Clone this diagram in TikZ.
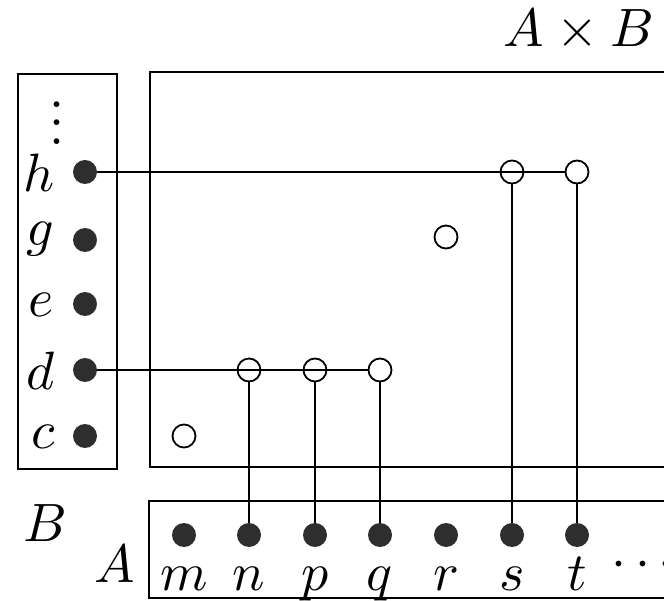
\documentclass[tikz,border=0pt]{standalone}
\tikzset{
  fdot/.style={circle,fill=black!82,inner sep=0pt,minimum size=24pt},
  odot/.style={circle,draw,line width=1.8pt,inner sep=0pt,minimum size=23pt},
  lab/.style={inner sep=0pt,scale=5.4},
  conn/.style={line width=1.9pt},
  frame/.style={line width=1.9pt}
}
\begin{document}
\begin{tikzpicture}[x=1pt,y=-1pt]
\useasboundingbox (0,0) rectangle (664,601);
% frames
\draw[frame] (18,74) rectangle (117,469);
\draw[frame] (680,72) -- (150,72) -- (150,467) -- (680,467);
\draw[frame] (680,501) -- (149,501) -- (149,598) -- (680,598);
% set B
\node[fdot] (bh) at (85,172) {};
\node[fdot] (bg) at (85,240) {};
\node[fdot] (be) at (85,304) {};
\node[fdot] (bd) at (85,370) {};
\node[fdot] (bc) at (85,436) {};
\node[lab] (lh) at (39,173) {$h$};
\node[lab] (lg) at (40,239) {$g$};
\node[lab] (le) at (41,305) {$e$};
\node[lab] (ld) at (41,371) {$d$};
\node[lab] (lc) at (43,437) {$c$};
\node[lab] (vd) at (57,123) {\vbox{\baselineskip=3.45pt\lineskiplimit=-50pt\hbox{.}\hbox{.}\hbox{.}}};
\node[lab] (lB) at (45,523) {$B$};
% set A
\node[fdot] (am) at (184,535) {};
\node[fdot] (an) at (249,535) {};
\node[fdot] (ap) at (315,535) {};
\node[fdot] (aq) at (380,535) {};
\node[fdot] (ar) at (446,535) {};
\node[fdot] (as) at (512,535) {};
\node[fdot] (at) at (577,535) {};
\node[lab,anchor=base] (lm) at (184,590) {$m$};
\node[lab,anchor=base] (ln) at (249,590) {$n$};
\node[lab,anchor=base] (lp) at (315,590) {$p$};
\node[lab,anchor=base] (lq) at (380,590) {$q$};
\node[lab,anchor=base] (lr) at (446,590) {$r$};
\node[lab,anchor=base] (ls) at (512,590) {$s$};
\node[lab,anchor=base] (lt) at (577,590) {$t$};
\node[lab,anchor=base west] (ldots) at (610,577) {$\cdots$};
\node[lab,anchor=base] (lA) at (115,582) {$A$};
% product
\node[lab,anchor=base] (lAB) at (579,47) {$A\times B$};
\node[odot] (csh) at (512,172) {};
\node[odot] (cth) at (577,172) {};
\node[odot] (crg) at (446,237) {};
\node[odot] (cnd) at (249,370) {};
\node[odot] (cpd) at (315,370) {};
\node[odot] (cqd) at (380,370) {};
\node[odot] (cmc) at (184,436) {};
% connectors
\draw[conn] (bh.east) -- (cth.west);
\draw[conn] (bd.east) -- (cqd.west);
\draw[conn] (csh.south) -- (as.north);
\draw[conn] (cth.south) -- (at.north);
\draw[conn] (cnd.south) -- (an.north);
\draw[conn] (cpd.south) -- (ap.north);
\draw[conn] (cqd.south) -- (aq.north);
\end{tikzpicture}
\end{document}
